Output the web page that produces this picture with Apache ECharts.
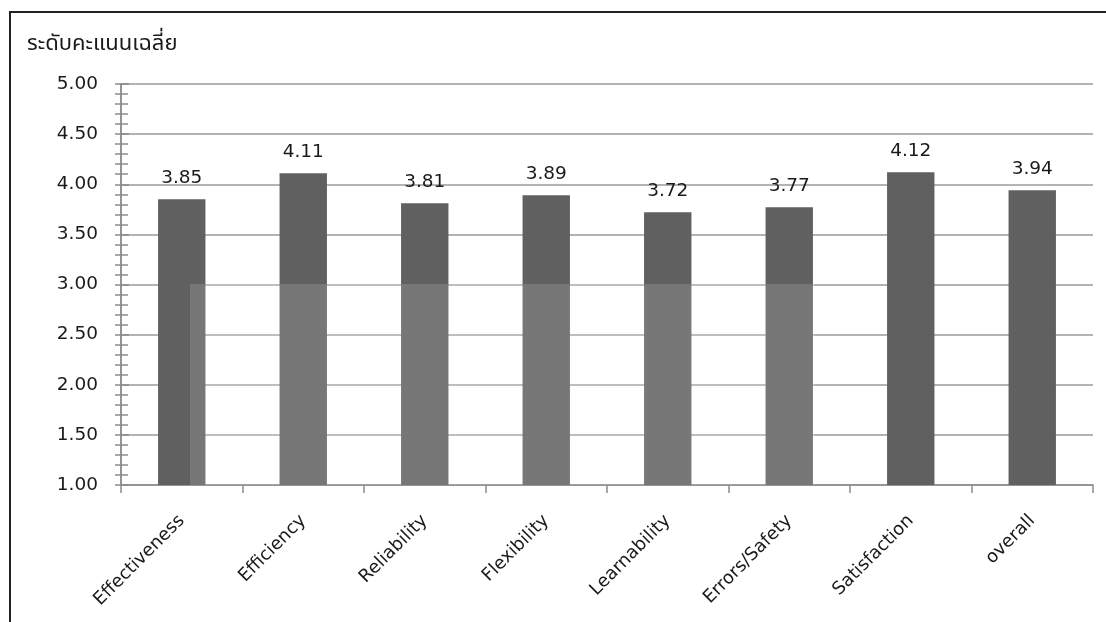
<!DOCTYPE html>
<html>
<head>
<meta charset="utf-8">
<script src="https://cdn.jsdelivr.net/npm/echarts@6/dist/echarts.min.js"></script>
<style>
html,body{margin:0;padding:0;background:#fff;}
#c{width:1106px;height:622px;}
</style>
</head>
<body>
<div id="c"></div>
<script>
const categories = ['Effectiveness','Efficiency','Reliability','Flexibility','Learnability','Errors/Safety','Satisfaction','overall'];
const meanScores = [3.85, 4.11, 3.81, 3.89, 3.72, 3.77, 4.12, 3.94];
const yTitle = 'ระดับคะแนนเฉลี่ย';
const yMin = 1, yMax = 5, yStep = 0.5;

const chart = echarts.init(document.getElementById('c'), null, {renderer:'canvas'});
const font = "'DejaVu Sans', Verdana, sans-serif";
const axisGray = '#8c8c8c';
const yCommon = {
  type:'value', min:yMin, max:yMax, interval:yStep, position:'left',
  axisLine:{show:true, lineStyle:{color:axisGray, width:1.5}},
  minorTick:{show:true, splitNumber:5, length:7, lineStyle:{color:axisGray, width:1.5}},
  axisTick:{show:true, length:7, lineStyle:{color:axisGray, width:1.5}}
};
chart.setOption({
  animation:false,
  backgroundColor:'#fff',
  title:{text:yTitle, left:22, top:30, textStyle:{fontFamily:"Tahoma, 'Noto Sans Thai', Loma, Garuda, 'Noto Sans', sans-serif", fontSize:22, fontWeight:'normal', color:'#1a1a1a'}},
  grid:{left:121, right:13, top:84, bottom:137},
  xAxis:{
    type:'category', data:categories,
    axisLine:{lineStyle:{color:axisGray, width:1.5}},
    axisTick:{show:true, alignWithLabel:false, length:8, lineStyle:{color:axisGray, width:1.5}},
    axisLabel:{rotate:45, margin:33, interval:0, fontFamily:font, fontSize:18, color:'#1a1a1a'}
  },
  yAxis:[
    Object.assign({}, yCommon, {
      axisTick:Object.assign({}, yCommon.axisTick, {inside:false, length:6}),
      minorTick:Object.assign({}, yCommon.minorTick, {length:6}),
      splitLine:{show:true, lineStyle:{color:'#9a9a9a', width:1.6}},
      axisLabel:{margin:23, formatter:v=>v.toFixed(2), fontFamily:font, fontSize:18.5, color:'#1a1a1a'}
    }),
    Object.assign({}, yCommon, {
      axisTick:Object.assign({}, yCommon.axisTick, {inside:true, length:8}),
      splitLine:{show:false}, axisLabel:{show:false}
    })
  ],
  series:[{
    type:'bar', data:meanScores, barWidth:'39%',
    itemStyle:{color:'#606060'},
    label:{show:true, position:'top', distance:12, formatter:p=>p.value.toFixed(2), fontFamily:font, fontSize:18.5, color:'#1a1a1a'}
  }],
  graphic:[
    {type:'rect', shape:{x:190, y:284, width:625, height:201}, style:{fill:'rgba(255,255,255,0.15)'}, z:100, silent:true},
    {type:'rect', shape:{x:10, y:12, width:1110, height:640}, style:{fill:null, stroke:'#222', lineWidth:2}, z:100, silent:true}
  ]
});
</script>
</body>
</html>
